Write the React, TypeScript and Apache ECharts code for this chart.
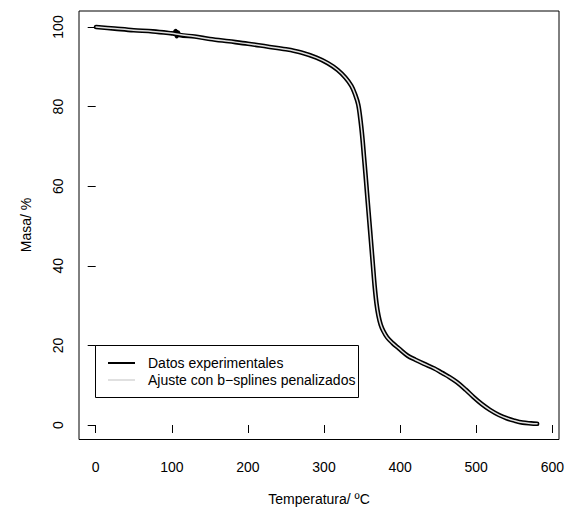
import { useEffect, useRef } from "react";
import * as echarts from "echarts";

// Experimental TGA curve (temperature in ºC, mass in %)
const TEMP_EXP = [
  0.5, 25, 50, 75, 100, 103, 105, 106.5, 108, 110, 130, 150, 175, 200, 225, 250,
  270, 290, 305, 318, 328, 336, 341, 345, 348, 350.5, 352.5, 354.5, 356.5,
  358.5, 360.5, 362.5, 364.5, 366.5, 369, 371.5, 374.5, 378, 383, 390, 398, 410,
  420, 431, 445, 455, 465, 475, 486, 496, 507, 518, 530, 540, 550, 561, 572, 580,
];
const MASA_EXP = [
  100, 99.6, 99.2, 98.9, 98.4, 98.3, 99.0, 97.7, 98.6, 98.0, 97.6, 97.0, 96.4,
  95.8, 95.1, 94.4, 93.6, 92.3, 90.9, 89.2, 87.3, 85.2, 83.0, 80.5, 76.5, 72,
  67.5, 63, 58.3, 53.6, 49, 44.3, 39.6, 35, 30.5, 27.5, 25.2, 23.6, 22.0, 20.6,
  19.3, 17.4, 16.4, 15.4, 14.2, 13.1, 12.0, 10.7, 8.9, 7.1, 5.3, 3.8, 2.5, 1.7,
  1.1, 0.6, 0.4, 0.3,
];

// Penalized b-spline fit
const TEMP_FIT = [
  0.5, 25, 50, 75, 100, 110, 130, 150, 175, 200, 225, 250, 270, 290, 305, 318,
  328, 336, 341, 345, 348, 350.5, 352.5, 354.5, 356.5, 358.5, 360.5, 362.5,
  364.5, 366.5, 369, 371.5, 374.5, 378, 383, 390, 398, 410, 420, 431, 445, 455,
  465, 475, 486, 496, 507, 518, 530, 540, 550, 561, 572, 580,
];
const MASA_FIT = [
  100, 99.6, 99.2, 98.9, 98.4, 98.1, 97.6, 97.0, 96.4, 95.8, 95.1, 94.4, 93.6,
  92.3, 90.9, 89.2, 87.3, 85.2, 83.0, 80.5, 76.5, 72, 67.5, 63, 58.3, 53.6, 49,
  44.3, 39.6, 35, 30.5, 27.5, 25.2, 23.6, 22.0, 20.6, 19.3, 17.4, 16.4, 15.4,
  14.2, 13.1, 12.0, 10.7, 8.9, 7.1, 5.3, 3.8, 2.5, 1.7, 1.1, 0.6, 0.4, 0.3,
];

const X_MIN = 0;
const X_MAX = 600;
const X_STEP = 100;
const Y_MIN = 0;
const Y_MAX = 100;
const Y_STEP = 20;

const SERIES_NAMES = ["Datos experimentales", "Ajuste con b−splines penalizados"];
const X_TITLE = "Temperatura/ ºC";
const Y_TITLE = "Masa/ %";

const FONT = "'Liberation Sans', Arial, Helvetica, sans-serif";
const FIT_COLOR = "#e0e0e0";

export default function App() {
  const ref = useRef<HTMLDivElement>(null);

  useEffect(() => {
    if (!ref.current) return;
    const chart = echarts.init(ref.current, null, { renderer: "svg" });

    const expData = TEMP_EXP.map((t, i) => [t, MASA_EXP[i]]);
    const fitData = TEMP_FIT.map((t, i) => [t, MASA_FIT[i]]);

    chart.setOption({
      animation: false,
      backgroundColor: "#ffffff",
      grid: { left: 95.7, right: 10.7, top: 27, bottom: 83, containLabel: false },
      xAxis: {
        type: "value",
        min: X_MIN,
        max: X_MAX,
        interval: X_STEP,
        offset: 14.5,
        axisLine: { show: false },
        axisTick: { show: true, length: 8, lineStyle: { color: "#000", width: 1 } },
        axisLabel: { color: "#000", fontSize: 14, fontFamily: FONT, margin: 20 },
        splitLine: { show: false },
      },
      yAxis: {
        type: "value",
        min: Y_MIN,
        max: Y_MAX,
        interval: Y_STEP,
        offset: 16.7,
        axisLine: { show: false },
        axisTick: { show: true, length: 8, lineStyle: { color: "#000", width: 1 } },
        axisLabel: { color: "#000", fontSize: 14, fontFamily: FONT, margin: 14, rotate: 90 },
        splitLine: { show: false },
      },
      series: [
        {
          name: SERIES_NAMES[0],
          type: "line",
          data: expData,
          showSymbol: false,
          clip: false,
          smooth: 0.35,
          lineStyle: { color: "#000", width: 4.6, cap: "round", join: "round" },
          z: 2,
        },
        {
          name: SERIES_NAMES[1],
          type: "line",
          data: fitData,
          showSymbol: false,
          clip: false,
          smooth: 0.35,
          lineStyle: { color: FIT_COLOR, width: 1.5, cap: "round", join: "round" },
          z: 3,
        },
      ],
      graphic: [
        {
          type: "rect",
          shape: { x: 79, y: 11, width: 480, height: 428.5 },
          style: { fill: "none", stroke: "#000", lineWidth: 1 },
          silent: true,
          z: 10,
        },
        {
          type: "text",
          x: 319,
          y: 499,
          style: {
            text: X_TITLE,
            fontSize: 14,
            fontFamily: FONT,
            fill: "#000",
            textAlign: "center",
            textVerticalAlign: "middle",
          },
        },
        {
          type: "text",
          x: 25.5,
          y: 225,
          rotation: Math.PI / 2,
          style: {
            text: Y_TITLE,
            fontSize: 14,
            fontFamily: FONT,
            fill: "#000",
            textAlign: "center",
            textVerticalAlign: "middle",
          },
        },
        {
          type: "group",
          z: 20,
          children: [
            {
              type: "rect",
              shape: { x: 95.5, y: 345.5, width: 263, height: 52 },
              style: { fill: "#fff", stroke: "#000", lineWidth: 1 },
            },
            {
              type: "line",
              shape: { x1: 108, y1: 363, x2: 135, y2: 363 },
              style: { stroke: "#000", lineWidth: 2 },
            },
            {
              type: "line",
              shape: { x1: 108, y1: 380, x2: 135, y2: 380 },
              style: { stroke: FIT_COLOR, lineWidth: 2 },
            },
            {
              type: "text",
              x: 148,
              y: 363,
              style: {
                text: SERIES_NAMES[0],
                fontSize: 14,
                fontFamily: FONT,
                fill: "#000",
                textAlign: "left",
                textVerticalAlign: "middle",
              },
            },
            {
              type: "text",
              x: 148,
              y: 380,
              style: {
                text: SERIES_NAMES[1],
                fontSize: 14,
                fontFamily: FONT,
                fill: "#000",
                textAlign: "left",
                textVerticalAlign: "middle",
              },
            },
          ],
        },
      ],
    });

    return () => chart.dispose();
  }, []);

  return (
    <div
      ref={ref}
      style={{ position: "fixed", left: 0, top: 0, width: 567, height: 508 }}
    />
  );
}
